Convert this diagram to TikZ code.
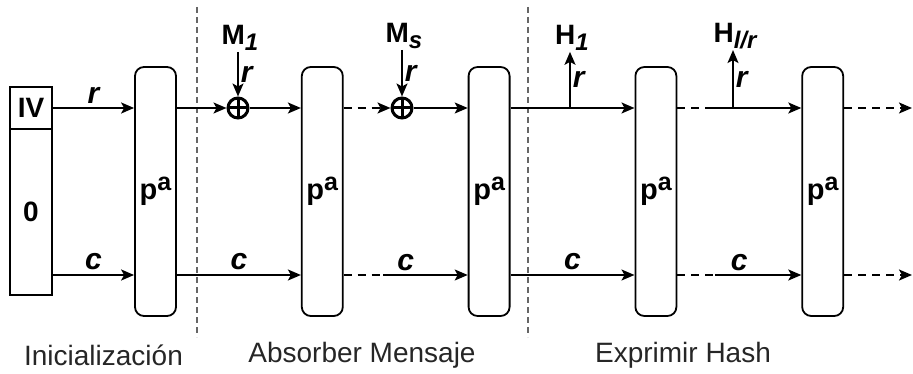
\documentclass[tikz,border=0pt]{standalone}
\usepackage{fontspec}
\setmainfont{Liberation Sans}
\usetikzlibrary{arrows.meta, positioning, calc}

\newcommand{\pa}{p\raisebox{9pt}{\fontsize{25}{25}\selectfont a}}
\newcommand{\lowtxt}[1]{\raisebox{-6pt}{\fontsize{24}{24}\selectfont\itshape #1}}

\begin{document}
\begin{tikzpicture}[
        x=1pt, y=-1pt,
        node distance=124pt,
        perm/.style={rectangle, rounded corners=9pt, draw, line width=1.8pt, minimum width=41pt, minimum height=249pt, inner sep=0pt, font=\fontsize{29}{29}\selectfont\bfseries},
        reg/.style={rectangle, draw, line width=1.8pt, minimum width=42pt, inner sep=0pt, font=\fontsize{28}{28}\selectfont\bfseries},
        xor/.style={circle, draw, line width=3pt, minimum size=20pt, inner sep=0pt,
            path picture={\draw[line width=3pt] (path picture bounding box.north) -- (path picture bounding box.south)
                (path picture bounding box.west) -- (path picture bounding box.east);}},
        io/.style={inner sep=1pt, font=\fontsize{28}{28}\selectfont\bfseries},
        lbl/.style={inner sep=2pt, font=\fontsize{30}{30}\selectfont\bfseries\itshape},
        phase/.style={font=\fontsize{28}{28}\selectfont, text=black!85},
        arrowline/.style={-{Stealth[length=13pt, width=11pt, inset=3pt]}, line width=1.8pt},
        dashline/.style={line width=1.8pt, dash pattern=on 8pt off 6pt},
        sep/.style={line width=1.3pt, black!60, dash pattern=on 6pt off 4pt}
    ]
        \useasboundingbox (0,0) rectangle (913,374);

        % rows of the state
        \coordinate (top) at (0,108);
        \coordinate (bot) at (0,275);

        % initial state
        \node[reg, minimum height=42pt] (iv) at (31,108) {IV};
        \node[reg, minimum height=166pt] (zero) at (31,212) {0};

        % permutations
        \node[perm] (p1) at (155.5,191.5) {\pa};
        \node[perm, right=of p1] (p2) {\pa};
        \node[perm, right=of p2] (p3) {\pa};
        \node[perm, right=of p3] (p4) {\pa};
        \node[perm, right=of p4] (p5) {\pa};

        % phase borders
        \draw[sep] (197,7) -- (197,337);
        \draw[sep] (528,7) -- (528,337);

        % message blocks
        \node[xor] (x1) at (238,108) {};
        \node[xor] (x2) at (402,108) {};
        \node[io] (m1) at (240,38) {M\lowtxt{1}};
        \node[io] (ms) at (404,36) {M\lowtxt{s}};

        % output blocks
        \coordinate (h1b) at (570,108);
        \coordinate (hlb) at (733,108);
        \node[io] (h1) at (572,38) {H\lowtxt{1}};
        \node[io] (hl) at (735,36) {H\lowtxt{l/r}};

        % breaks between dashed and solid parts
        \coordinate (b2) at (383,275);
        \coordinate (b4t) at (712,108);
        \coordinate (b4b) at (715,275);
        \coordinate (o1) at (912,108);
        \coordinate (o2) at (912,275);

        % initialisation
        \draw[arrowline] (iv.east) -- node[lbl, above=2pt] {r} (p1.west |- top);
        \draw[arrowline] (zero.east |- bot) -- node[lbl, above=2pt] {c} (p1.west |- bot);

        % absorbing
        \draw[arrowline] (p1.east |- top) -- (x1);
        \draw[arrowline] (m1.south -| x1) -- node[lbl, right=0pt] {r} (x1);
        \draw[arrowline] (x1) -- (p2.west |- top);
        \draw[arrowline] (p1.east |- bot) -- node[lbl, above=2pt] {c} (p2.west |- bot);
        \draw[dashline, arrowline] (p2.east |- top) -- (x2);
        \draw[arrowline] (ms.south -| x2) -- node[lbl, right=0pt] {r} (x2);
        \draw[arrowline] (x2) -- (p3.west |- top);
        \draw[dashline] (p2.east |- bot) -- (b2);
        \draw[arrowline] (b2) -- (p3.west |- bot);
        \path (p2.east |- bot) -- node[lbl, above=2pt] {c} (p3.west |- bot);

        % squeezing
        \draw[arrowline] (p3.east |- top) -- (p4.west |- top);
        \draw[arrowline] (h1b) -- node[lbl, right=0pt] {r} (h1.south -| h1b);
        \draw[arrowline] (p3.east |- bot) -- node[lbl, above=2pt] {c} (p4.west |- bot);
        \draw[dashline] (p4.east |- top) -- (b4t);
        \draw[arrowline] (b4t) -- (p5.west |- top);
        \draw[arrowline] (hlb) -- node[lbl, right=0pt] {r} (hl.south -| hlb);
        \draw[dashline] (p4.east |- bot) -- (b4b);
        \draw[arrowline] (b4b) -- (p5.west |- bot);
        \path (p4.east |- bot) -- node[lbl, above=2pt] {c} (p5.west |- bot);
        \draw[dashline, arrowline] (p5.east |- top) -- (o1);
        \draw[dashline, arrowline] (p5.east |- bot) -- (o2);

        % phase names
        \node[phase] (ini) at (103.5,355) {Inicialización};
        \node[phase] (abs) at (362,355) {Absorber Mensaje};
        \node[phase] (exp) at (683,355) {Exprimir Hash};
    \end{tikzpicture}
\end{document}
